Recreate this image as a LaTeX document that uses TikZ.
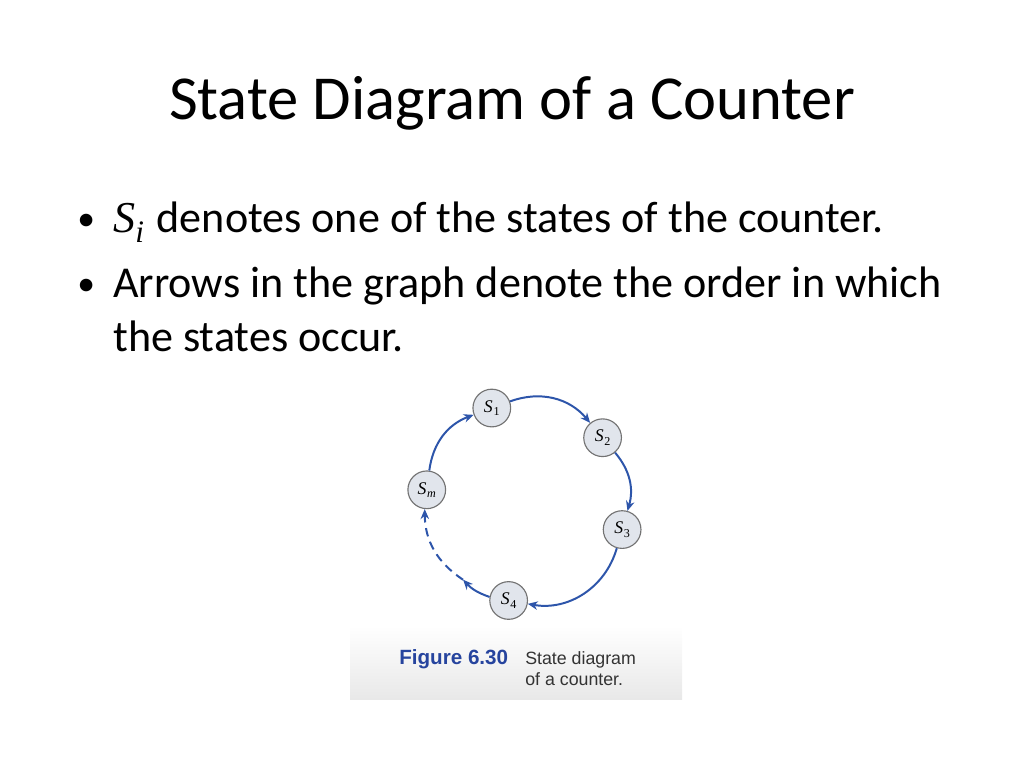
\documentclass[tikz,border=0pt]{standalone}
\usepackage{fontspec}
\setmainfont{Carlito}
\newfontfamily\figfont{Liberation Sans}
\newfontfamily\serifest{Liberation Serif}
\usepackage{tikz}
\usetikzlibrary{arrows.meta,positioning,calc}
\newcommand{\est}[1]{{\itshape S}\kern0.5pt\raisebox{-0.4ex}{\fontsize{8.5}{9}\selectfont#1}}
\newcommand{\sub}[1]{{\serifest\itshape S}\raisebox{-0.45ex}{\serifest\fontsize{22}{24}\selectfont\itshape #1}\kern2pt\relax}
\definecolor{azulflecha}{RGB}{45,85,170}
\definecolor{azulfig}{RGB}{38,68,158}
\definecolor{grisestado}{RGB}{225,229,236}
\tikzstyle{titulo} = [anchor=base, inner sep=0pt, font=\fontsize{44}{53}\selectfont]
\tikzstyle{viñeta} = [anchor=base west, inner sep=0pt, font=\fontsize{31}{38}\selectfont]
\tikzstyle{punto} = [anchor=base west, inner sep=0pt, font=\fontsize{25}{28}\selectfont]
\tikzstyle{estado} = [circle, draw=black!55, fill=grisestado, line width=0.8pt, minimum size=26.5pt, inner sep=0pt, font=\serifest\fontsize{12.5}{14}\selectfont]
\tikzstyle{flecha} = [draw=azulflecha, line width=1.4pt, -{Stealth[length=7pt,width=6pt]}, azulflecha]
\tikzstyle{leyenda} = [anchor=base west, inner sep=0pt, font=\figfont\fontsize{12.5}{15}\selectfont]

\begin{document}
\begin{tikzpicture}[x=0.703125pt, y=0.703125pt]
	\useasboundingbox (0,0) rectangle (1024,-768);
	\node[titulo] (title) at (512,-120) {State Diagram of a Counter};
	\node[punto] (b1) at (77,-231) {•};
	\node[viñeta] (t1) at (113,-233) {\sub{i} denotes one of the states of the counter.};
	\node[punto] (b2) at (77,-296) {•};
	\node[viñeta] (t2) at (113,-298) {Arrows in the graph denote the order in which};
	\node[viñeta] (t3) at (113,-351) {the states occur.};
	% figura
	\fill[top color=white, bottom color=black!9] (350,-626) rectangle (682,-699);
	\coordinate (c) at (526,-502);
	\node[estado] (s1) at ($(c)+(110:100)$) {\est{1}};
	\node[estado] (s2) at ($(c)+(40:100)$) {\est{2}};
	\node[estado] (s3) at ($(c)+(-16:100)$) {\est{3}};
	\node[estado] (s4) at ($(c)+(-100:100)$) {\est{4}};
	\node[estado] (sm) at ($(c)+(173:100)$) {\est{\itshape m}};
	\coordinate (corte) at ($(c)+(-129:100)$);
	\draw[flecha] (s1) to[bend left=35] (s2);
	\draw[flecha] (s2) to[bend left=28] (s3);
	\draw[flecha] (s3) to[bend left=42] (s4);
	\draw[flecha] (s4) to[bend left=14] (corte);
	\draw[flecha, dash pattern=on 6pt off 4pt] (corte) to[bend left=28] (sm);
	\draw[flecha] (sm) to[bend left=31] (s1);
	\node[leyenda, text=azulfig, font=\figfont\bfseries\fontsize{14.5}{15}\selectfont] (fig) at (399,-664) {Figure 6.30};
	\node[leyenda, text=black!80] (cap1) at (525,-664) {State diagram};
	\node[leyenda, text=black!80] (cap2) at (525,-685) {of a counter.};
\end{tikzpicture}
\end{document}
